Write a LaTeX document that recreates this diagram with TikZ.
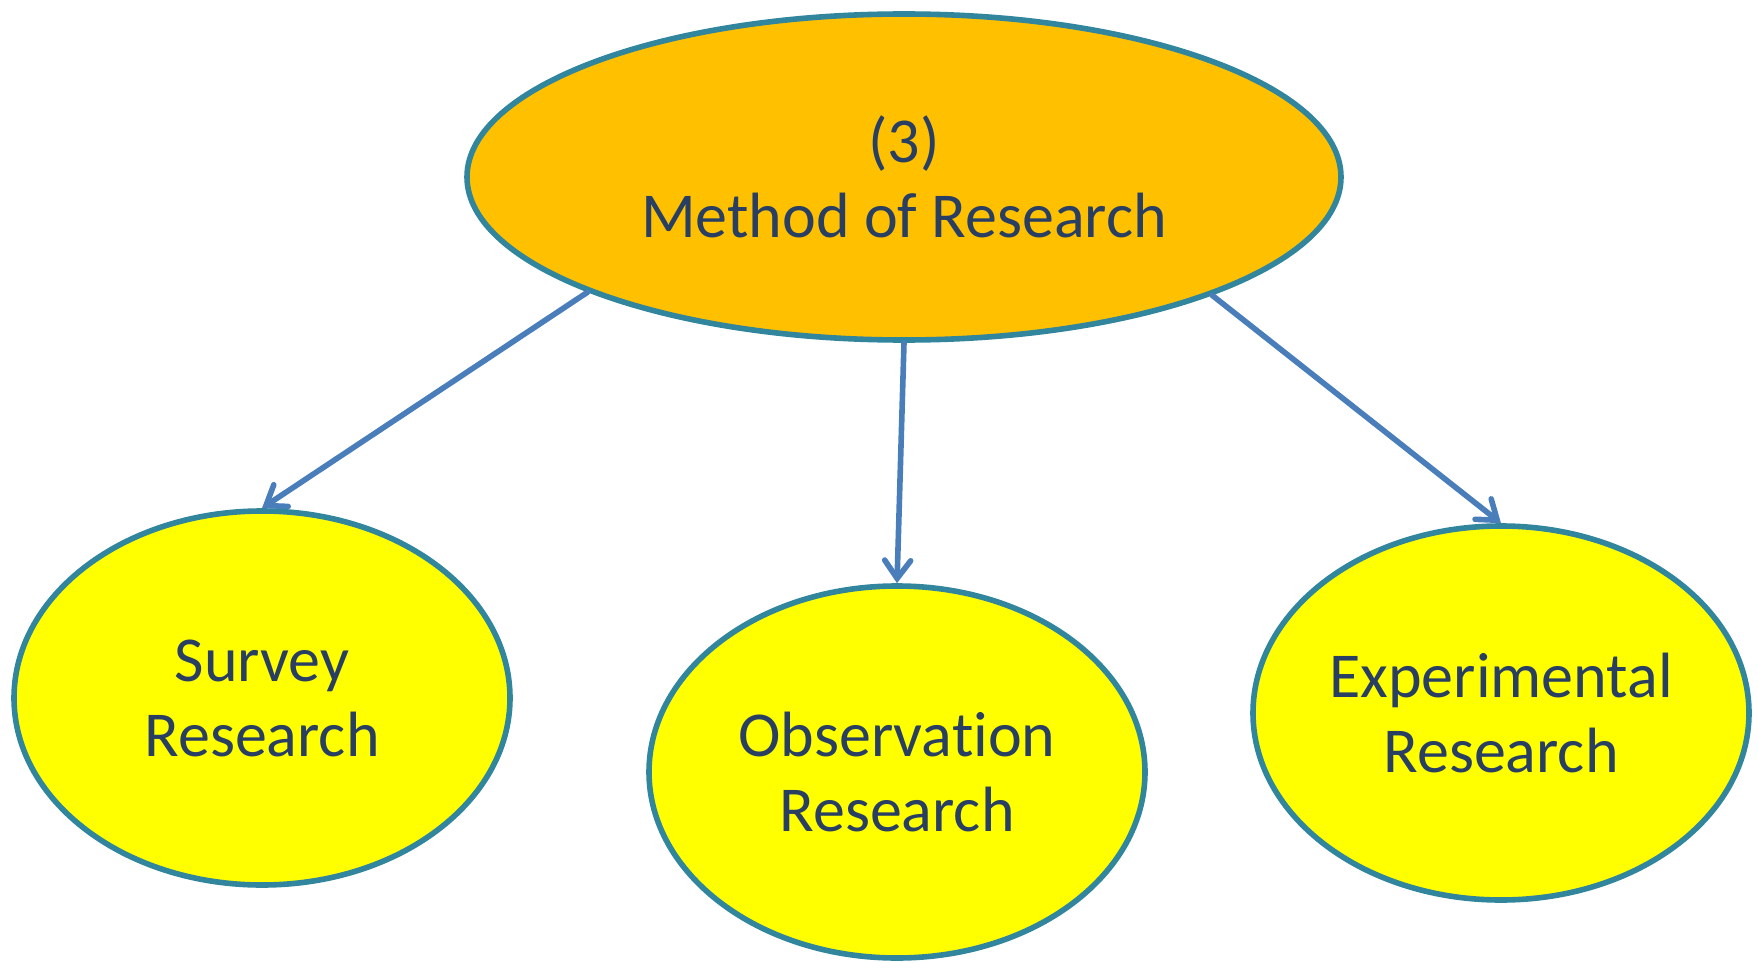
\documentclass[tikz,border=0pt]{standalone}
\usepackage{fontspec}
\setmainfont{Carlito}[Ligatures=NoCommon]
\usetikzlibrary{shapes.geometric,arrows.meta}
\definecolor{rim}{HTML}{31859C}
\definecolor{linkblue}{HTML}{4A7EBB}
\definecolor{inkblue}{HTML}{283F63}
\definecolor{amber}{HTML}{FFC000}
\definecolor{lemon}{HTML}{FFFF00}
\tikzset{
  bubble/.style={ellipse, draw=rim, line width=2.8pt, inner sep=0pt,
    text=inkblue, align=center,
    font=\fontsize{32}{37.5}\selectfont},
  link/.style={draw=linkblue, line width=2.8pt, line cap=round,
    -{Straight Barb[length=9pt,width=13pt,line cap=round]}},
}
\begin{document}
\begin{tikzpicture}[x=0.5pt,y=-0.5pt]
\useasboundingbox (0,0) rectangle (1758,963);
% main topic
\node[bubble, fill=amber, minimum width=437pt, minimum height=163pt] (top) at (904,177) {(3)\\Method of Research};
% three kinds of research
\node[bubble, fill=lemon, minimum width=248pt, minimum height=187pt] (survey) at (262,698) {Survey\\Research};
\node[bubble, fill=lemon, minimum width=248pt, minimum height=186pt] (obs) at (897,772) {Observation\\Research};
\node[bubble, fill=lemon, minimum width=248pt, minimum height=187pt] (exp) at (1501,713) {Experimental\\Research};
% connectors
\draw[link] (top.200) -- (survey.north);
\draw[link] (top.south) -- (obs.north);
\draw[link] (top.339) -- (exp.north);
\end{tikzpicture}
\end{document}
